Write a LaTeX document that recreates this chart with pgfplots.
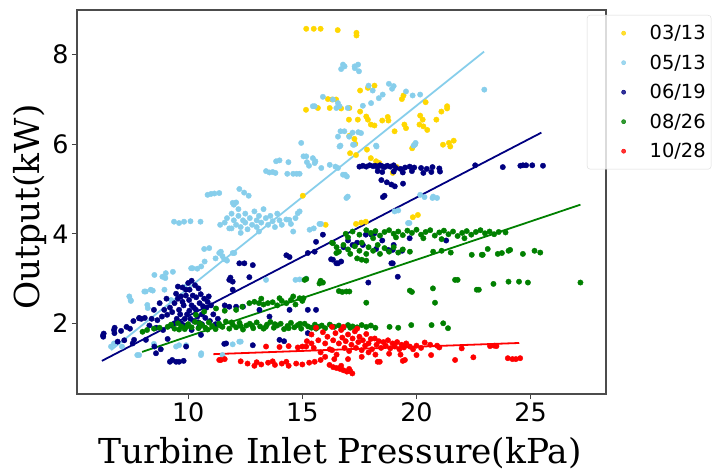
\documentclass[border=0pt]{standalone}
\usepackage{fontspec}
\setmainfont{DejaVu Sans}
\newfontfamily\seriffont{DejaVu Serif}
\usepackage{pgfplots}
\pgfplotsset{compat=1.18}
\definecolor{cgold}{HTML}{FFD700}
\definecolor{csky}{HTML}{87CEEB}
\definecolor{cnavy}{HTML}{000080}
\definecolor{cgreen}{HTML}{008000}
\definecolor{cred}{HTML}{FF0000}
\pgfplotsset{myleg/.style={legend image code/.code={\path[draw=none,fill=none] (0bp,-14.75bp) rectangle (57bp,14.75bp); \path[##1, mark size=2.1bp] plot coordinates {(33bp,0bp)};}}}
\begin{document}
\begin{tikzpicture}
\begin{axis}[
  scale only axis, width=529bp, height=384bp,
  at={(0,0)}, anchor=south west,
  xmin=5.13, xmax=28.3, ymin=0.42, ymax=9.0,
  xtick={10,15,20,25}, ytick={2,4,6,8},
  /pgf/number format/assume math mode=true,
  tick label style={font=\fontsize{25.5}{25.5}\selectfont},
  tick align=outside, tick pos=left, major tick length=5bp,
  every tick/.style={black!75, line width=1bp},
  axis line style={black!70, line width=1.1bp},
  xlabel={Turbine Inlet Pressure(kPa)},
  ylabel={Output(kW)},
  label style={font=\seriffont\fontsize{34.5}{34.5}\selectfont},
  xlabel style={at={(rel axis cs:0.497,0)}, anchor=base, yshift=-69bp},
  ylabel style={at={(rel axis cs:-0.071,0.487)}, anchor=base, rotate=0},
  legend style={at={(rel axis cs:0.964,0.987)}, anchor=north west,
    draw=black!15, rounded corners=3bp, fill=white, fill opacity=0.8, text opacity=1,
    inner xsep=3.5bp, inner ysep=3.25bp, row sep=0bp,
    font=\fontsize{19.5}{19.5}\selectfont},
  legend cell align=left,
  mark size=2.7bp,
]
% 03/13
\addplot[only marks, mark=*, color=cgold, myleg] coordinates {
(15.17,8.58)(15.50,8.58)(15.80,8.58)(16.55,8.55)(17.37,8.49)(17.37,8.43)
(16.12,7.01)(16.30,7.00)(15.16,6.77)(15.68,6.81)(16.20,6.81)(16.70,6.80)(16.48,7.00)
(17.53,7.20)(17.87,7.26)(18.16,7.31)(19.43,7.09)(19.36,7.01)(20.40,6.94)
(17.06,6.81)(17.53,6.73)(17.43,6.55)(17.80,6.62)(17.87,6.55)(18.00,6.44)(18.16,6.42)
(18.50,6.53)(18.74,6.61)(18.77,6.53)(19.47,6.44)(19.54,6.36)(19.04,6.29)
(20.16,6.64)(20.27,6.55)(20.13,6.44)(20.30,6.40)(20.47,6.32)(20.87,6.55)(21.09,6.73)
(21.34,6.85)(21.34,6.80)(21.16,5.99)(21.42,6.03)(21.63,6.08)(21.48,5.95)
(17.06,6.19)(17.28,6.12)(17.32,6.01)(17.09,5.80)(17.35,5.76)(17.83,5.88)(18.00,5.69)
(18.23,5.62)(18.37,5.58)(18.96,5.36)(19.14,5.49)(19.81,5.91)(19.92,5.99)(17.04,6.55)
(15.02,4.85)(16.02,4.20)(17.35,4.22)(17.58,4.25)(17.78,4.27)(19.84,4.37)(20.06,4.42)
};
\addlegendentry{03/13}
% 05/13
\addplot[only marks, mark=*, color=csky, myleg] coordinates {
(16.78,7.78)(16.70,7.68)(16.85,7.74)(17.29,7.74)(17.30,7.70)(17.48,7.63)(17.44,7.78)(22.97,7.22)
(15.90,7.06)(15.46,6.85)(15.54,6.85)(16.34,7.00)(16.56,6.92)(16.49,6.81)(16.63,6.85)(16.99,6.81)
(17.65,6.86)(18.01,6.92)(18.35,7.03)(18.52,7.11)(17.90,7.31)(18.08,7.20)(18.79,7.35)(18.93,7.24)
(19.00,7.30)(19.54,7.18)(19.83,7.09)(20.16,7.11)
(16.84,6.29)(17.20,6.26)(17.45,6.27)(17.57,6.25)(17.05,6.17)(16.67,6.29)(16.56,6.17)(16.67,5.97)
(17.27,5.99)(18.23,5.97)(19.87,5.97)(19.96,6.03)(16.87,5.32)(16.95,5.28)(16.99,4.83)
(14.95,6.03)(15.05,5.73)(15.20,5.60)(15.29,5.52)(15.46,5.69)(15.57,5.62)(16.20,5.54)
(16.45,5.50)(16.56,5.47)(15.83,5.47)(14.00,5.64)(14.39,5.60)(13.85,5.62)(13.41,5.40)(13.56,5.37)
(13.82,5.36)(13.70,5.38)(14.34,5.34)(14.60,5.34)(14.75,5.34)(14.88,5.34)
(11.00,4.89)(11.15,4.90)(11.36,4.91)(12.24,5.00)(12.45,4.92)(12.65,4.85)(12.10,4.70)(10.85,4.87)
(14.80,4.46)(14.43,4.31)(15.32,4.09)(15.50,4.12)(15.82,4.22)
(11.40,4.20)(11.60,4.25)(11.70,4.35)(11.80,4.12)(11.90,4.45)(12.00,4.30)(12.10,4.20)(12.20,4.40)
(12.20,4.55)(12.30,4.15)(12.40,4.30)(12.50,4.25)(12.50,4.45)(12.60,4.10)(12.70,4.35)(12.80,4.20)
(12.90,4.50)(13.00,4.30)(13.00,4.15)(13.10,4.40)(13.20,4.25)(13.30,4.55)(13.40,4.35)(13.50,4.20)
(13.60,4.40)(13.70,4.28)(13.80,4.15)(13.90,4.45)(14.00,4.30)(14.10,4.20)(14.30,4.32)(14.50,4.22)
(14.60,4.05)(14.70,4.35)(14.88,4.50)(12.00,4.65)(11.90,4.12)(12.30,4.02)(13.10,4.05)(11.95,4.69)
(9.38,4.27)(9.60,4.24)(9.82,4.27)(10.10,4.28)(10.54,4.27)
(10.70,3.66)(10.92,3.68)(11.43,3.60)(11.58,3.43)(12.02,3.57)(11.36,3.57)(11.95,3.57)
(11.20,3.45)(11.50,3.50)(11.70,3.40)
(10.13,3.23)(10.19,3.23)(10.57,3.27)(10.72,3.38)(10.40,3.22)
(9.00,3.01)(9.33,3.15)(9.02,3.12)(8.87,3.04)(8.52,3.08)(9.84,2.81)(8.96,2.75)(8.45,2.73)
(8.08,2.71)(8.14,2.71)(8.36,2.75)(7.42,2.60)(7.49,2.50)(7.48,2.52)(8.23,2.34)(8.21,2.41)(9.25,2.52)
(13.41,2.97)(14.88,2.98)(15.17,3.00)(14.70,2.97)
(12.30,1.59)(12.24,1.59)(11.95,1.53)(11.50,1.29)
(6.62,1.48)(6.75,1.55)(7.85,1.29)(7.77,1.29)(8.50,1.54)(9.47,1.48)(9.60,1.51)(10.57,1.33)(10.56,1.29)
(9.91,1.51)(7.10,1.48)
(19.04,4.50)(19.20,4.52)(19.69,4.24)(20.73,4.83)(20.90,4.80)(16.93,4.80)(19.63,4.24)(15.75,4.22)
(20.16,4.87)(20.35,4.82)(20.70,4.80)
(19.93,5.99)(16.63,5.95)(17.22,5.99)(18.25,5.95)(15.17,5.73)(15.54,5.58)(16.78,5.32)
};
\addlegendentry{05/13}
% 06/19
\addplot[only marks, mark=*, color=cnavy, myleg] coordinates {
(17.50,5.50)(17.65,5.52)(17.80,5.50)(17.95,5.53)(18.10,5.51)(18.20,5.52)(18.30,5.50)(18.40,5.53)
(18.50,5.51)(18.60,5.49)(18.72,5.52)(18.85,5.50)(19.00,5.53)(19.10,5.47)(19.30,5.45)(19.50,5.48)
(19.70,5.50)(19.90,5.48)(20.20,5.47)(20.45,5.45)(20.70,5.49)(21.00,5.46)
(18.30,5.40)(18.50,5.38)(19.00,5.39)(19.40,5.37)(19.80,5.40)(20.30,5.36)(20.65,5.38)(21.03,5.39)
(22.57,5.53)(23.78,5.49)(24.55,5.52)(24.66,5.53)(24.80,5.53)(25.07,5.53)(25.54,5.52)
(18.46,5.20)(18.70,5.15)(18.90,5.10)(19.05,5.06)(19.41,5.12)(18.53,4.82)(18.60,4.85)
(15.90,3.98)(17.78,3.98)(18.16,4.01)(18.02,3.98)(19.70,3.90)(17.65,3.75)(17.20,3.75)(18.23,3.66)
(18.76,3.64)(18.96,3.64)(19.37,3.62)(18.96,3.34)(18.90,3.34)(19.18,3.04)(17.89,2.91)(21.30,3.85)
(16.34,3.42)(16.26,3.43)(16.49,3.34)(16.56,3.34)(16.70,3.38)(14.44,3.48)(14.30,3.52)(15.24,3.57)
(15.54,3.60)(12.83,3.30)(12.46,3.34)(12.24,3.34)(12.68,3.03)(11.95,2.93)(11.80,2.97)(11.85,3.02)
(11.95,2.75)(12.10,2.37)(11.60,2.40)(11.80,2.37)(12.40,2.37)(13.12,2.30)(13.56,2.15)(14.44,2.30)
(15.24,2.30)(15.60,2.30)(14.00,1.63)(14.20,1.60)(12.83,1.51)(11.58,1.54)(11.66,1.55)(15.24,1.78)
(17.00,3.85)(17.40,3.80)(18.50,3.85)(19.00,3.75)(16.80,3.70)(15.60,3.82)
(9.47,2.66)(9.68,2.60)(9.90,2.75)(10.04,2.52)(10.06,2.75)(10.20,2.62)(10.34,2.30)(10.50,2.45)
(10.60,2.20)(10.80,2.35)(11.00,2.40)(9.60,2.30)(9.80,2.40)(9.95,2.20)(10.10,2.10)(10.25,2.05)
(10.40,2.15)(9.50,2.10)(9.70,2.00)(9.85,1.95)(10.48,1.92)(10.56,1.74)(10.70,2.55)(10.90,2.60)
(11.10,2.20)(11.30,2.10)(9.40,2.45)(9.30,2.25)(9.08,2.19)(9.20,2.35)(10.00,2.90)(10.30,2.85)
(9.55,2.55)(9.75,2.48)(9.90,2.62)(10.15,2.40)(10.35,2.58)(10.55,2.65)(10.65,2.38)(10.85,2.48)
(9.65,2.20)(9.85,2.10)(10.05,2.28)(10.25,2.35)(10.45,2.02)(10.75,2.12)(10.95,2.05)(9.40,2.00)
(9.25,1.95)(10.15,1.85)(10.60,1.98)(11.20,1.98)(9.75,2.80)(10.15,2.95)(10.45,2.78)(9.55,2.82)
(8.85,2.15)(8.50,2.30)(8.65,2.07)(7.86,2.11)(7.95,2.10)(8.10,2.12)(7.85,2.12)(7.60,2.05)
(6.78,1.90)(7.06,1.83)(7.30,1.92)(7.45,1.88)(6.28,1.70)(6.27,1.73)(6.30,1.77)(6.77,1.78)
(6.75,1.85)(6.91,1.59)(7.20,1.62)(7.57,1.55)(7.63,1.63)(8.15,1.63)(8.52,1.48)(8.59,1.33)
(8.80,1.42)(9.47,1.14)(9.30,1.18)(9.20,1.14)(9.60,1.14)(9.80,1.16)(9.91,1.48)(8.30,1.95)
(8.60,1.90)(8.90,1.85)(9.10,1.65)(8.95,2.30)(8.75,2.45)(9.05,2.55)(8.40,2.10)
};
\addlegendentry{06/19}
% 08/26
\addplot[only marks, mark=*, color=cgreen, myleg] coordinates {
(16.9,4.00)(17.2,4.05)(17.5,3.98)(17.8,4.08)(18.0,4.02)(18.2,4.06)(18.4,3.96)(18.6,4.04)
(18.8,4.08)(19.0,4.00)(19.2,4.05)(19.4,3.97)(19.6,4.07)(19.8,4.02)(20.0,4.09)(20.2,3.98)
(20.4,4.04)(20.6,4.08)(20.8,3.96)(21.0,4.03)(21.2,4.07)(21.4,3.99)(21.6,4.05)(21.8,3.95)
(22.0,4.02)(22.2,4.06)(22.4,3.98)(22.6,4.04)(22.8,4.08)(23.0,4.01)(23.2,4.05)(23.4,3.99)
(23.6,4.04)(23.9,4.03)(17.0,3.92)(18.1,3.90)(19.1,3.92)(20.3,3.90)(21.1,3.88)(22.1,3.90)
(16.3,3.80)(16.5,3.70)(16.6,3.60)(16.8,3.75)(17.0,3.65)(17.1,3.55)(17.3,3.72)(17.5,3.62)
(17.6,3.80)(17.8,3.55)(17.9,3.70)(18.1,3.62)(18.3,3.75)(18.4,3.55)(18.6,3.68)(18.8,3.60)
(19.0,3.70)(19.2,3.58)(19.4,3.65)(19.71,3.60)(16.49,3.57)(16.34,3.79)(17.4,3.45)(17.6,3.42)(17.8,3.40)
(20.73,3.60)(21.1,3.62)(21.5,3.58)(22.42,3.53)(22.86,3.53)(23.12,3.66)(23.56,3.55)(23.74,3.57)
(24.03,3.62)(24.10,3.64)(24.66,3.55)(25.17,3.62)(25.42,3.58)(22.9,3.53)
(21.69,2.97)(21.80,2.97)(23.37,2.88)(24.03,2.93)(24.49,2.93)(24.88,2.91)(27.18,2.91)(22.73,2.75)
(22.64,2.75)(19.71,2.73)(19.80,2.70)(20.72,2.78)(20.81,2.46)(17.80,2.46)(17.06,2.71)(16.93,2.71)
(16.60,2.72)(16.75,2.70)(15.75,2.89)(15.80,2.95)(15.9,2.91)(15.05,2.56)(15.17,2.99)(15.10,2.97)
(12.37,2.37)(12.68,2.45)(12.9,2.48)(13.1,2.45)(13.3,2.42)(13.49,2.45)(13.7,2.47)(13.9,2.40)
(14.1,2.50)(14.3,2.45)(14.5,2.52)(14.7,2.42)(14.88,2.56)(15.0,2.50)(11.22,2.33)(11.6,2.28)
(10.7,2.26)(10.34,2.19)(12.1,2.30)(13.2,2.55)(14.0,2.56)(14.6,2.60)
(9.1,1.92)(9.25,1.97)(9.4,1.88)(9.55,2.00)(9.7,1.93)(9.85,1.87)(10.0,1.98)(10.15,1.91)
(10.3,2.03)(10.45,1.89)(10.6,1.96)(10.75,1.90)(10.9,2.02)(11.05,1.94)(11.2,1.87)(11.35,1.99)
(11.5,1.92)(11.65,2.04)(11.8,1.88)(11.95,1.97)(12.1,1.91)(12.25,2.01)(12.4,1.86)(12.55,1.95)
(12.7,1.99)(12.85,1.89)(13.0,2.02)(13.15,1.93)(13.3,1.88)(13.45,1.97)(13.6,2.03)(13.75,1.90)
(13.9,1.95)(14.05,1.99)(14.2,1.87)(14.35,1.94)(14.5,2.01)(14.65,1.91)(14.8,1.96)(14.95,1.88)
(15.1,1.99)(15.25,1.93)(15.4,1.90)(15.55,1.97)(15.7,1.92)(15.85,1.95)(16.0,1.89)(16.2,1.97)
(16.4,1.92)(16.6,1.95)(16.8,1.90)(17.0,1.96)(17.2,1.93)(17.4,1.91)(17.6,1.96)(17.8,1.92)
(18.0,1.95)(18.2,1.90)(18.82,1.92)(19.20,1.90)(19.77,1.96)(20.66,1.96)(21.17,2.00)(21.38,1.89)
(9.6,1.86)(9.95,1.93)(10.5,2.00)(10.85,1.86)(11.4,1.95)(11.9,2.02)(12.3,1.94)(12.8,1.95)
(13.4,1.92)(13.8,1.98)(14.4,1.89)(14.9,1.99)(15.6,1.88)(16.3,1.93)(17.1,1.90)
(8.00,1.81)(8.20,1.85)(8.5,1.88)(8.75,1.90)
};
\addlegendentry{08/26}
% 10/28
\addplot[only marks, mark=*, color=cred, myleg] coordinates {
(11.36,1.18)(11.43,1.18)(11.60,1.20)
(12.30,1.15)(12.6,1.10)(12.9,1.05)(13.2,1.08)(13.5,1.12)(13.8,1.07)(14.1,1.10)(14.4,1.05)
(14.73,1.10)(15.0,1.08)(13.0,1.13)(13.7,1.15)(14.3,1.14)
(13.41,1.48)(14.0,1.47)(14.4,1.49)(14.8,1.46)(15.17,1.48)
(15.2,1.60)(15.4,1.75)(15.5,1.45)(15.6,1.90)(15.7,1.62)(15.8,1.35)(15.9,1.80)(16.0,1.55)
(16.1,1.70)(16.2,1.42)(16.3,1.92)(16.35,1.62)(16.45,1.78)(16.5,1.30)(16.6,1.55)(16.7,1.85)
(16.75,1.68)(16.85,1.45)(16.9,1.60)(17.0,1.75)(17.05,1.38)(17.15,1.52)(17.2,1.66)(17.3,1.82)
(17.35,1.45)(17.45,1.58)(17.5,1.70)(17.6,1.40)(17.65,1.62)(17.75,1.50)(17.8,1.76)(17.9,1.55)
(18.0,1.65)(18.05,1.42)(18.17,1.66)(18.25,1.52)(18.35,1.60)(18.45,1.45)(18.55,1.58)(18.65,1.50)
(18.75,1.62)(18.85,1.44)(18.95,1.55)(19.05,1.48)(19.15,1.58)(19.25,1.42)(19.35,1.52)(19.45,1.46)
(19.55,1.55)(19.71,1.48)(19.85,1.42)(20.0,1.50)(16.0,1.25)(16.4,1.20)(15.54,1.14)(15.3,1.12)
(15.0,1.48)(16.19,1.07)(16.35,1.02)(16.5,1.00)(16.65,0.98)(16.8,0.95)(16.95,0.92)(17.05,0.98)
(17.19,0.88)(17.1,0.93)(16.7,1.05)(18.39,1.14)(19.49,1.18)(18.2,1.30)(17.6,1.25)(17.0,1.20)
(18.8,1.32)(19.3,1.30)(15.8,1.18)(16.3,1.40)(17.4,1.88)(16.8,1.92)(15.4,1.55)(17.9,1.35)
(20.0,1.29)(20.36,1.57)(20.6,1.52)(21.0,1.46)(21.69,1.18)(21.98,1.44)(22.49,1.24)(23.22,1.49)
(23.40,1.50)(23.50,1.49)(24.00,1.22)(24.20,1.20)(24.35,1.20)(24.54,1.22)(20.9,1.50)(20.2,1.45)
(20.64,1.29)(18.30,1.14)(19.40,1.16)
};
\addlegendentry{10/28}
% fitted lines
\addplot[csky, line width=1.8bp, forget plot] coordinates {(6.62,1.40)(22.96,8.07)};
\addplot[cnavy, line width=1.8bp, forget plot] coordinates {(6.22,1.16)(25.47,6.26)};
\addplot[cgreen, line width=1.8bp, forget plot] coordinates {(7.98,1.36)(27.18,4.65)};
\addplot[cred, line width=1.8bp, forget plot] coordinates {(11.10,1.31)(24.50,1.56)};
\end{axis}
\pgfresetboundingbox
\path[use as bounding box] (-77bp,-81bp) rectangle (636bp,394bp);
\end{tikzpicture}
\end{document}
